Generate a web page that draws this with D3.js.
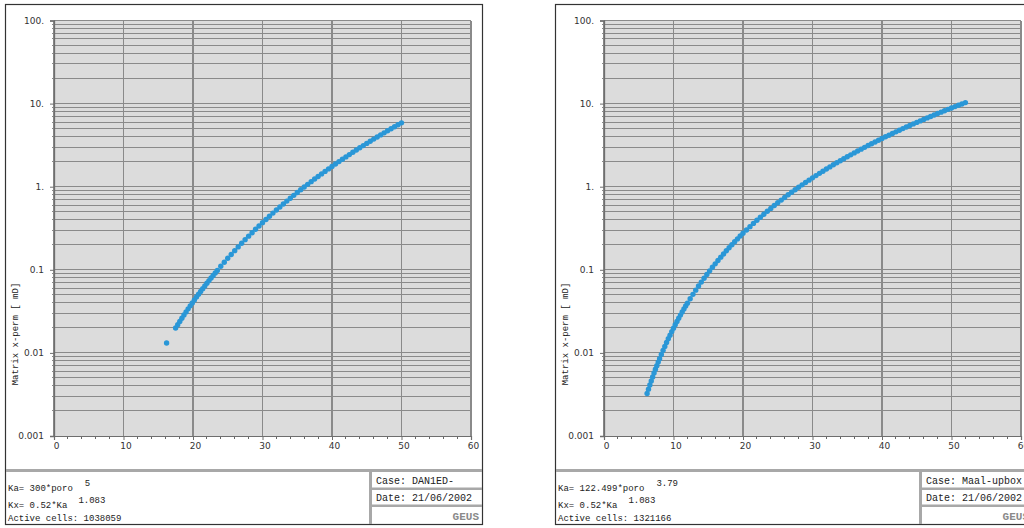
<!DOCTYPE html>
<html>
<head>
<meta charset="utf-8">
<script src="https://cdn.jsdelivr.net/npm/d3@7"></script>
<style>
  html, body { margin: 0; padding: 0; background: #fff; }
  svg { display: block; }
</style>
</head>
<body>
<svg id="chart" width="1024" height="528"></svg>
<script>
// ---- Data -------------------------------------------------------------
// Porosity (%) and matrix x-permeability (mD), case DAN1ED-
const leftPoro = [
  16.2,
  17.5, 17.8, 18.1, 18.4, 18.7, 19.0, 19.3, 19.6, 19.9, 20.2, 20.5,
  20.8, 21.1, 21.4, 21.7, 22.0, 22.3, 22.6, 22.9, 23.2, 23.5,
  24.0, 24.5, 25.0, 25.5, 26.0, 26.5, 27.0, 27.5, 28.0, 28.5, 29.0, 29.5,
  30.0, 30.5, 31.0, 31.5, 32.0, 32.5, 33.0, 33.5, 34.0, 34.5, 35.0, 35.5,
  36.0, 36.5, 37.0, 37.5, 38.0, 38.5, 39.0, 39.5, 40.0, 40.5, 41.0, 41.5,
  42.0, 42.5, 43.0, 43.5, 44.0, 44.5, 45.0, 45.5, 46.0, 46.5, 47.0, 47.5,
  48.0, 48.5, 49.0, 49.5, 50.0
];
const leftPerm = [
  0.01313,
  0.01994, 0.02186, 0.02394, 0.02616, 0.02856, 0.03113, 0.03388, 0.03684, 0.03999, 0.04337, 0.04697,
  0.05082, 0.05491, 0.05928, 0.06392, 0.06885, 0.07409, 0.07965, 0.08555, 0.09180, 0.09841,
  0.1103, 0.1233, 0.1376, 0.1531, 0.1701, 0.1886, 0.2087, 0.2305, 0.2541, 0.2797, 0.3073, 0.3371,
  0.3692, 0.4038, 0.4410, 0.4809, 0.5237, 0.5695, 0.6186, 0.6711, 0.7272, 0.7870, 0.8508, 0.9188,
  0.9910, 1.068, 1.150, 1.236, 1.328, 1.426, 1.529, 1.638, 1.753, 1.875, 2.004, 2.140,
  2.284, 2.435, 2.594, 2.761, 2.938, 3.123, 3.318, 3.522, 3.737, 3.962, 4.199, 4.446,
  4.706, 4.977, 5.262, 5.559, 5.870
];

// Porosity (%) and matrix x-permeability (mD), case Maal-upbox
const rightPoro = [
  6.2, 6.4, 6.6, 6.8, 7.0, 7.2, 7.4, 7.6, 7.8, 8.0,
  8.25, 8.5, 8.75, 9.0, 9.25, 9.5, 9.75, 10.0, 10.25, 10.5, 10.75, 11.0, 11.25, 11.5, 11.75, 12.0,
  12.4, 12.8, 13.2, 13.6, 14.0, 14.4, 14.8, 15.2, 15.6, 16.0, 16.4, 16.8, 17.2, 17.6, 18.0, 18.4,
  18.8, 19.2, 19.6, 20.0,
  20.5, 21.0, 21.5, 22.0, 22.5, 23.0, 23.5, 24.0, 24.5, 25.0, 25.5, 26.0, 26.5, 27.0, 27.5, 28.0,
  28.5, 29.0, 29.5, 30.0, 30.5, 31.0, 31.5, 32.0, 32.5, 33.0, 33.5, 34.0, 34.5, 35.0, 35.5, 36.0,
  36.5, 37.0, 37.5, 38.0, 38.5, 39.0, 39.5, 40.0, 40.5, 41.0, 41.5, 42.0, 42.5, 43.0, 43.5, 44.0,
  44.5, 45.0, 45.5, 46.0, 46.5, 47.0, 47.5, 48.0, 48.5, 49.0, 49.5, 50.0, 50.5, 51.0, 51.5, 52.0
];
const rightPerm = [
  0.003246, 0.003661, 0.004113, 0.004606, 0.005141, 0.005720, 0.006346, 0.007021, 0.007747, 0.008528,
  0.009583, 0.01073, 0.01198, 0.01333, 0.01478, 0.01636, 0.01805, 0.01982, 0.02182, 0.02390, 0.02613, 0.02851, 0.03104, 0.03374, 0.03661, 0.03965,
  0.04489, 0.05064, 0.05690, 0.06372, 0.07112, 0.07913, 0.08779, 0.09712, 0.1072, 0.1180, 0.1295, 0.1419, 0.1552, 0.1693, 0.1843, 0.2004,
  0.2174, 0.2354, 0.2546, 0.2748,
  0.3018, 0.3306, 0.3615, 0.3944, 0.4294, 0.4668, 0.5064, 0.5484, 0.5930, 0.6402, 0.6901, 0.7428, 0.7985, 0.8570, 0.9187, 0.9837,
  1.052, 1.124, 1.199, 1.278, 1.360, 1.447, 1.537, 1.632, 1.730, 1.834, 1.941, 2.053, 2.170, 2.292, 2.418, 2.550,
  2.687, 2.829, 2.977, 3.130, 3.289, 3.453, 3.625, 3.801, 3.985, 4.165, 4.361, 4.574, 4.783, 5.000, 5.224, 5.455,
  5.694, 5.940, 6.194, 6.456, 6.726, 7.005, 7.291, 7.586, 7.890, 8.203, 8.525, 8.856, 9.196, 9.546, 9.906, 10.28
];

// Axis ticks and labels
const xTicks = [0, 10, 20, 30, 40, 50, 60];
const xTickLabels = ["0", "10", "20", "30", "40", "50", "60"];
const yTicks = [0.001, 0.01, 0.1, 1, 10, 100];
const yTickLabels = ["0.001", "0.01", "0.1", "1.", "10.", "100."];
const yTitle = "Matrix x-perm [ mD]";

// Footer texts per panel
const kaBase = ["Ka= 300*poro", "Ka= 122.499*poro"];
const kaExp = ["5", "3.79"];
const kxBase = ["Kx= 0.52*Ka", "Kx= 0.52*Ka"];
const kxExp = ["1.083", "1.083"];
const activeCells = ["Active cells: 1038059", "Active cells: 1321166"];
const caseNames = ["Case: DAN1ED-", "Case: Maal-upbox"];
const caseDates = ["Date: 21/06/2002", "Date: 21/06/2002"];

// ---- Drawing ----------------------------------------------------------
const svg = d3.select("#chart");
const MONO = "'Liberation Mono', 'DejaVu Sans Mono', monospace";
const SANS = "'DejaVu Sans', Verdana, sans-serif";
const GRID = "#8a8a8a";
const BAR = "#a8a8a8";

function drawPanel(idx, poro, perm, offsetX) {
  const g = svg.append("g").attr("transform", `translate(${offsetX},0)`);

  // panel frame
  g.append("rect")
    .attr("x", 5.5).attr("y", 4.5).attr("width", 477).attr("height", 520)
    .attr("fill", "#fff").attr("stroke", "#333").attr("stroke-width", 1.2);

  const x = d3.scaleLinear().domain([0, 60]).range([54, 471]);
  const y = d3.scaleLog().domain([0.001, 100]).range([436, 20.5]);

  // plot background
  g.append("rect")
    .attr("x", x(0)).attr("y", y(100))
    .attr("width", x(60) - x(0)).attr("height", y(0.001) - y(100))
    .attr("fill", "#dcdcdc");

  // horizontal grid (every 1..9 of each decade)
  const isMajor = d => Math.abs(Math.log10(d) - Math.round(Math.log10(d))) < 1e-9;
  g.append("g")
    .attr("shape-rendering", "crispEdges")
    .selectAll("line").data(y.ticks()).join("line")
    .attr("x1", d => isMajor(d) ? x(0) : x(0) - 2)
    .attr("x2", x(60))
    .attr("y1", d => y(d)).attr("y2", d => y(d))
    .attr("stroke", GRID).attr("stroke-width", 1);

  // vertical grid
  g.append("g")
    .attr("shape-rendering", "crispEdges")
    .selectAll("line").data(xTicks).join("line")
    .attr("x1", d => x(d)).attr("x2", d => x(d))
    .attr("y1", y(100)).attr("y2", y(0.001))
    .attr("stroke", GRID).attr("stroke-width", 1.2);

  // minor x ticks below the axis
  g.append("g")
    .attr("shape-rendering", "crispEdges")
    .selectAll("line").data(x.ticks(30).filter(d => d % 10 !== 0)).join("line")
    .attr("x1", d => x(d)).attr("x2", d => x(d))
    .attr("y1", y(0.001)).attr("y2", y(0.001) + 3)
    .attr("stroke", "#666");

  // y axis
  const yAxis = g.append("g")
    .attr("transform", `translate(${x(0)},0)`)
    .call(d3.axisLeft(y).tickValues(yTicks)
      .tickFormat((d, i) => yTickLabels[i]).tickSize(4).tickPadding(6));
  yAxis.select(".domain").attr("stroke", "#6e6e6e").attr("stroke-width", 1.3);
  yAxis.selectAll(".tick line").attr("stroke", "#6e6e6e");
  yAxis.selectAll("text")
    .attr("font-family", SANS).attr("font-size", 9).attr("fill", "#333");

  // x axis
  const xAxis = g.append("g")
    .attr("transform", `translate(0,${y(0.001)})`)
    .call(d3.axisBottom(x).tickValues(xTicks)
      .tickFormat((d, i) => xTickLabels[i]).tickSize(4).tickPadding(3));
  xAxis.select(".domain").attr("stroke", "#6e6e6e").attr("stroke-width", 1.2);
  xAxis.selectAll(".tick line").attr("stroke", "#6e6e6e");
  xAxis.selectAll("text")
    .attr("font-family", SANS).attr("font-size", 9).attr("fill", "#333")
    .attr("dx", 2);

  // y axis title
  g.append("text")
    .attr("transform", "translate(18,334) rotate(-90)")
    .attr("text-anchor", "middle")
    .attr("font-family", MONO).attr("font-size", 9).attr("fill", "#222")
    .text(yTitle);

  // data points
  const pts = poro.map((p, i) => ({ p, k: perm[i] }));
  g.append("g").selectAll("circle").data(pts).join("circle")
    .attr("cx", d => x(d.p)).attr("cy", d => y(d.k))
    .attr("r", 2.7)
    .attr("fill", "#2a97d7");

  // footer separators
  g.append("rect").attr("x", 6).attr("y", 469).attr("width", 476).attr("height", 3).attr("fill", BAR);
  g.append("rect").attr("x", 369).attr("y", 469).attr("width", 3).attr("height", 55).attr("fill", BAR);
  g.append("rect").attr("x", 372).attr("y", 487.5).attr("width", 110).attr("height", 2.5).attr("fill", BAR);
  g.append("rect").attr("x", 372).attr("y", 504.5).attr("width", 110).attr("height", 2.5).attr("fill", BAR);

  // footer: relations and cell count
  const foot = (tx, ty, s) => g.append("text")
    .attr("x", tx).attr("y", ty)
    .attr("font-family", MONO).attr("font-size", 9).attr("fill", "#222")
    .attr("xml:space", "preserve").text(s);

  const ka = foot(8, 490.5, kaBase[idx]);
  foot(8 + ka.node().getComputedTextLength() + 12, 485.5, kaExp[idx]);
  const kx = foot(8, 507.5, kxBase[idx]);
  foot(8 + kx.node().getComputedTextLength() + 11, 503, kxExp[idx]);
  foot(8, 521, activeCells[idx]);

  // footer: case box
  g.append("text").attr("x", 376).attr("y", 484)
    .attr("font-family", MONO).attr("font-size", 10).attr("fill", "#222")
    .text(caseNames[idx]);
  g.append("text").attr("x", 376).attr("y", 501)
    .attr("font-family", MONO).attr("font-size", 10).attr("fill", "#222")
    .text(caseDates[idx]);
  g.append("text").attr("x", 479).attr("y", 520).attr("text-anchor", "end")
    .attr("font-family", MONO).attr("font-size", 11).attr("font-weight", "bold")
    .attr("fill", "#8a8a8a")
    .text("GEUS");
}

drawPanel(0, leftPoro, leftPerm, 0);
drawPanel(1, rightPoro, rightPerm, 550);
</script>
</body>
</html>
